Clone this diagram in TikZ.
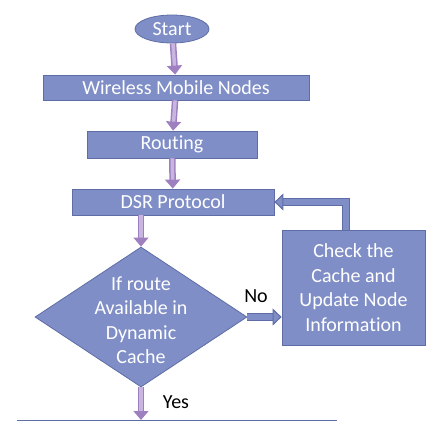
\documentclass[tikz,border=0pt]{standalone}
\usepackage{fontspec}
\setmainfont{Carlito}[Ligatures=NoCommon]
\usetikzlibrary{shapes.geometric,arrows.meta}
\definecolor{boxblue}{HTML}{7F8EC6}
\definecolor{boxline}{HTML}{5E6DA6}
\definecolor{flowpurple}{HTML}{9E80C0}
\definecolor{flowlight}{HTML}{C8B6E0}

\begin{document}
\begin{tikzpicture}[x=1pt,y=-1pt,
  every node/.style = {fill=boxblue, draw=boxline, line width=0.8pt,
    text=white, align=center, inner sep=0pt,
    font=\fontsize{20}{24.5}\selectfont},
  stepbox/.style = {rectangle},
  plain/.style = {fill=none, draw=none, text=black},
  flow/.style = {draw=flowpurple, line width=1.5pt, double=flowlight,
    double distance=3.5pt, -{Triangle[width=15pt,length=9pt,fill=flowpurple]}},
  back/.style = {draw=boxline, line width=1pt, double=boxblue,
    double distance=6pt, -{Triangle[width=17pt,length=9pt,fill=boxblue]}}]
  \useasboundingbox (0,0) rectangle (431,421);

  \node[ellipse, minimum width=74, minimum height=28] (start) at (172,29) {Start};
  \node[stepbox, minimum width=266, minimum height=25] (nodes) at (176,87.5) {Wireless Mobile Nodes};
  \node[stepbox, minimum width=170, minimum height=27] (routing) at (172,144.5) {Routing};
  \node[stepbox, minimum width=202, minimum height=26] (dsr) at (173,202) {DSR Protocol};
  \node[diamond, minimum width=212, minimum height=140] (route) at (141,317) {};
  \node[plain, text=white] (routetext) at (141,320) {If route\\Available in\\Dynamic\\Cache};
  \node[stepbox, minimum width=143, minimum height=115] (cache) at (353.5,287.5)
    {Check the\\Cache and\\Update Node\\Information};

  % bottom edge of the next step
  \coordinate (endL) at (17,420);
  \coordinate (endR) at (337,420);
  \draw[boxline, line width=1pt] (endL) -- (endR);

  \draw[flow] (start) -- (nodes);
  \draw[flow] (nodes) -- (routing);
  \draw[flow] (routing) -- (dsr);
  \draw[flow] (route.north |- dsr.south) -- (route.north);
  \draw[flow] (route.south) -- (route.south |- endL);
  \draw[back] (route.east) -- (route.east -| cache.west);
  \draw[back] ([xshift=-8pt]cache.north) |- (dsr.east);

  \node[plain] (no) at (256,296) {No};
  \node[plain] (yes) at (176,402) {Yes};
\end{tikzpicture}
\end{document}
